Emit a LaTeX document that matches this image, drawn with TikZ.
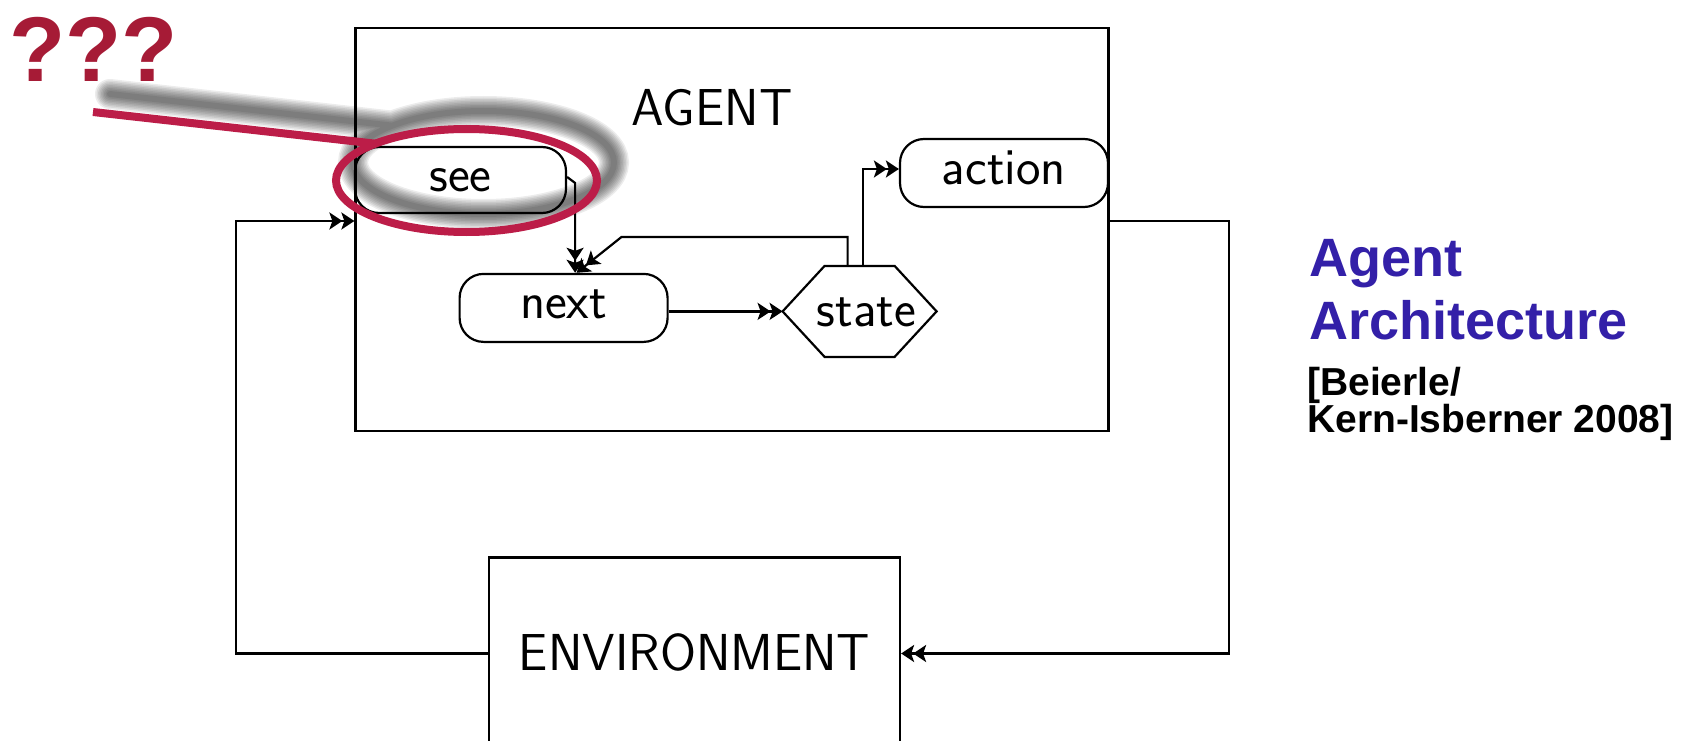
\documentclass[tikz,border=0pt]{standalone}
\usepackage{fontspec}
\newfontfamily\headfont{Liberation Sans}
\usetikzlibrary{shapes.geometric,arrows.meta,calc}
\definecolor{titleblue}{HTML}{3320A8}
\definecolor{markred}{HTML}{BC1D48}
\definecolor{qred}{HTML}{A61B36}
\begin{document}
\begin{tikzpicture}[x=1pt,y=-1pt,
  lbl/.style={font=\sffamily\fontsize{52}{60}\selectfont},
  frame/.style={draw, line width=2.2pt, inner sep=0pt},
  roundbox/.style={frame, lbl, rounded corners=24pt, minimum width=#1,
                   minimum height=68pt, text height=30pt, text depth=8pt},
  conn/.style={line width=2.2pt,
    -{Stealth[length=13pt,width=17pt,inset=3pt,sep=-1pt]Stealth[length=13pt,width=17pt,inset=3pt]}},
  head/.style={anchor=base west, inner sep=0pt, text=titleblue,
               font=\headfont\bfseries\fontsize{54}{60}\selectfont},
  cite/.style={anchor=base west, inner sep=0pt, text=black,
               font=\headfont\bfseries\fontsize{39}{40}\selectfont},
]
\clip (0,0) rectangle (1692,741);
\fill[white] (0,0) rectangle (1692,741);

% agent and environment
\node[frame, minimum width=753pt, minimum height=403pt] (agent) at (732,229.5) {};
\node[lbl, anchor=base, inner sep=0pt] (agentlbl) at (712,126) {AGENT};
\node[frame, lbl, minimum width=411pt, minimum height=192pt,
      text height=37pt, text depth=4pt] (env) at (694.5,653.5) {ENVIRONMENT};

% internal components
\node[roundbox=211pt, minimum height=66pt] (see) at (460.5,180) {see};
\node[roundbox=208pt] (next) at (563.6,307.9) {next};
\node[roundbox=208pt] (action) at (1004,173) {action};
\node[lbl, inner sep=0pt, outer sep=0pt, minimum width=154pt, minimum height=91pt,
      text height=34pt, text depth=4pt] (state) at (859.6,311.4) {\hspace*{14pt}state};
\draw[line width=2.2pt, line join=miter]
  (state.west) -- ([xshift=-35pt]state.north) -- ([xshift=35pt]state.north)
  -- (state.east) -- ([xshift=35pt]state.south) -- ([xshift=-35pt]state.south) -- cycle;

% internal flow
\draw[conn] ([yshift=3pt]see.east) -- ++(8,6) coordinate (k) -- (k |- next.north);
\draw[conn] (next.east |- state.west) -- (state.west);
\draw[conn] ([xshift=-12pt]state.north) -- ++(0,-29) -- ++(-226,0) -- ([xshift=13pt]next.north);
\draw[conn] ([xshift=3.4pt]state.north) |- ([yshift=4pt]action.west);

% feedback loop with the environment
\draw[conn] ([yshift=8.5pt]agent.east) -- ++(119,0) |- (env.east);
\draw[conn] (env.west) -- ++(-252,0) |- ([yshift=8.5pt]agent.west);

% title
\node[head] (t1) at (1309,276) {Agent};
\node[head] (t2) at (1309,339) {Architecture};
\node[cite] (c1) at (1307,395) {[Beierle/};
\node[cite] (c2) at (1307,432) {Kern-Isberner 2008]};

% highlight of the perception component, with a soft drop shadow
\node[ellipse, minimum width=261pt, minimum height=103pt,
      inner sep=0pt, outer sep=0pt] (ring) at (466.5,180.5) {};
\coordinate (tail) at (93,112);
\foreach \w in {30,27,24,21,18,15,12,9,6}{
  \draw[line width=\w pt, black, opacity=0.075, line cap=round]
    ([shift={(17,-18)}]tail) -- ([shift={(17,-18)}]ring.158)
    ([shift={(17,-18)}]ring.center) ellipse [x radius=130.5, y radius=51.5];
}
\draw[markred, line width=8pt] (ring.center) ellipse [x radius=130.5, y radius=51.5];
\draw[markred, line width=8pt] (tail) -- (ring.158);
\node[anchor=base west, inner sep=0pt, text=qred,
      font=\headfont\bfseries\fontsize{92}{100}\selectfont] (qq) at (9,82) {???};
\end{tikzpicture}
\end{document}
